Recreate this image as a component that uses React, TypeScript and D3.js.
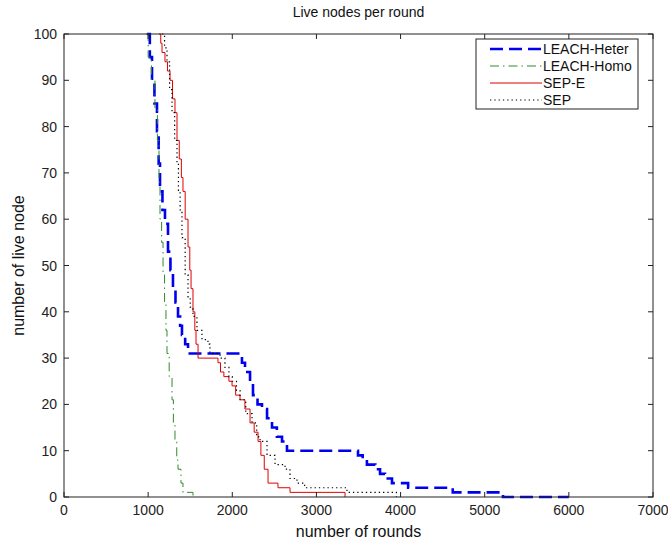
import React from "react";
import * as d3 from "d3";

const xTicks = [0, 1000, 2000, 3000, 4000, 5000, 6000, 7000];
const yTicks = [0, 10, 20, 30, 40, 50, 60, 70, 80, 90, 100];

const heterRounds = [986, 1020, 1046, 1075, 1105, 1125, 1141, 1170, 1200, 1236, 1265, 1295, 1325, 1355, 1380, 1402, 1440, 1474, 2115, 2151, 2211, 2246, 2300, 2353, 2413, 2472, 2530, 2591, 2650, 3494, 3550, 3600, 3700, 3756, 3815, 3898, 4090, 4620, 5217, 6000];
const heterNodes = [100, 95, 90, 85, 79, 72, 66, 62, 59, 53, 49, 45, 42, 39, 37, 35, 33, 31, 29, 27, 25, 22, 20, 19, 17, 15, 13, 12, 10, 9, 8, 7, 6, 5, 4, 3, 2, 1, 0, 0];

const homoRounds = [975, 1000, 1040, 1081, 1110, 1129, 1141, 1160, 1177, 1195, 1212, 1224, 1250, 1284, 1300, 1319, 1340, 1355, 1390, 1414, 1533];
const homoNodes = [100, 95, 90, 84, 77, 68, 60, 55, 48, 42, 36, 31, 26, 21, 16, 12, 8, 6, 3, 1, 0];

const sepERounds = [1129, 1150, 1165, 1200, 1230, 1260, 1290, 1319, 1343, 1370, 1395, 1414, 1440, 1474, 1495, 1510, 1533, 1555, 1569, 1593, 1830, 1860, 1900, 1960, 1997, 2040, 2092, 2150, 2211, 2260, 2306, 2340, 2380, 2425, 2543, 2686, 3340];
const sepENodes = [100, 98, 96, 94, 92, 90, 86, 83, 77, 73, 69, 66, 60, 54, 49, 45, 40, 36, 33, 30, 29, 27, 26, 25, 24, 22, 21, 19, 16, 14, 12, 9, 6, 3, 2, 1, 0];

const sepRounds = [1165, 1195, 1224, 1255, 1284, 1315, 1343, 1360, 1380, 1402, 1440, 1474, 1500, 1533, 1580, 1640, 1711, 1735, 1854, 1913, 1960, 2000, 2050, 2092, 2160, 2235, 2290, 2330, 2413, 2508, 2627, 2686, 2769, 2860, 3363, 3950];
const sepNodes = [100, 97, 94, 88, 83, 77, 72, 66, 62, 56, 48, 43, 41, 39, 36, 34, 33, 31, 30, 28, 26, 25, 23, 21, 18, 16, 13, 12, 9, 7, 6, 4, 3, 2, 1, 0];

const seriesNames = ["LEACH-Heter", "LEACH-Homo", "SEP-E", "SEP"];

const W = 668, H = 544;
const left = 64, right = 653, top = 34, bottom = 497;
const font = "'Liberation Sans', Arial, sans-serif";

export default function App() {
  const x = d3.scaleLinear().domain([0, 7000]).range([left, right]);
  const y = d3.scaleLinear().domain([0, 100]).range([bottom, top]);
  const mk = (rs: number[], ns: number[]) =>
    d3.line<number>().x((_, i) => x(rs[i])).y((_, i) => y(ns[i])).curve(d3.curveStepAfter)(rs) || "";

  const styles = [
    { color: "#0000f0", width: 2.6, dash: "13 6", rs: heterRounds, ns: heterNodes },
    { color: "#2f8a2f", width: 1, dash: "9 4 1.5 4", rs: homoRounds, ns: homoNodes },
    { color: "#e00000", width: 1, dash: "", rs: sepERounds, ns: sepENodes },
    { color: "#000000", width: 1.2, dash: "1.3 3", rs: sepRounds, ns: sepNodes },
  ];

  const tl = 5;
  const legX = 476, legY = 39, legW = 162, legH = 70;

  return (
    <svg width={W} height={H} style={{ position: "absolute", left: 0, top: 0, background: "#fff" }}>
      <rect x={0} y={0} width={W} height={H} fill="#fff" />
      <text x={(left + right) / 2} y={17} textAnchor="middle" fontFamily={font} fontSize={14} fill="#111">Live nodes per round</text>
      <rect x={left} y={top} width={right - left} height={bottom - top} fill="#fff" />
      <defs>
        <clipPath id="plot"><rect x={left} y={top - 2} width={right - left} height={bottom - top + 4} /></clipPath>
      </defs>
      <g clipPath="url(#plot)">
        {styles.map((s, i) => (
          <path key={i} d={mk(s.rs, s.ns)} fill="none" stroke={s.color} strokeWidth={s.width}
            strokeDasharray={s.dash || undefined} />
        ))}
      </g>
      <rect x={left} y={top} width={right - left} height={bottom - top} fill="none" stroke="#222" strokeWidth={1} />
      {xTicks.map((t) => (
        <g key={"x" + t}>
          <line x1={x(t)} x2={x(t)} y1={bottom} y2={bottom - tl} stroke="#222" />
          <line x1={x(t)} x2={x(t)} y1={top} y2={top + tl} stroke="#222" />
          <text x={x(t)} y={515} textAnchor="middle" fontFamily={font} fontSize={14} fill="#222">{t}</text>
        </g>
      ))}
      {yTicks.map((t) => (
        <g key={"y" + t}>
          <line x1={left} x2={left + tl} y1={y(t)} y2={y(t)} stroke="#222" />
          <line x1={right} x2={right - tl} y1={y(t)} y2={y(t)} stroke="#222" />
          <text x={57} y={y(t) + 5} textAnchor="end" fontFamily={font} fontSize={14} fill="#222">{t}</text>
        </g>
      ))}
      <text x={(left + right) / 2} y={537} textAnchor="middle" fontFamily={font} fontSize={16} fill="#111">number of rounds</text>
      <text transform={`translate(24,${(top + bottom) / 2}) rotate(-90)`} textAnchor="middle" fontFamily={font} fontSize={16} fill="#111">number of live node</text>
      <rect x={legX} y={legY} width={legW} height={legH} fill="#fff" stroke="#222" strokeWidth={1} />
      {styles.map((s, i) => {
        const ly = 49 + i * 17;
        return (
          <g key={"l" + i}>
            <line x1={490} x2={542} y1={ly} y2={ly} stroke={s.color} strokeWidth={s.width}
              strokeDasharray={s.dash || undefined} />
            <text x={543} y={ly + 5} fontFamily={font} fontSize={14} fill="#111">{seriesNames[i]}</text>
          </g>
        );
      })}
    </svg>
  );
}
